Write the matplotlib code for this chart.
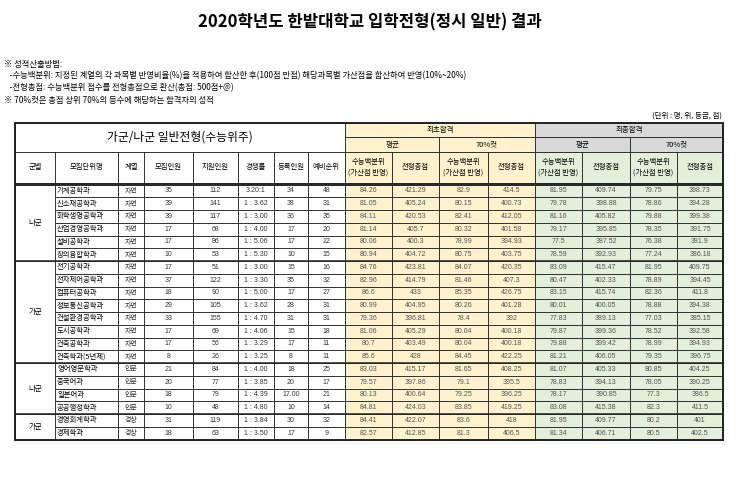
import matplotlib.pyplot as plt
from matplotlib import font_manager
from matplotlib.patches import Rectangle

names = {f.name for f in font_manager.fontManager.ttflist}
KR = [n for n in ["Noto Sans CJK KR", "Noto Sans CJK JP", "Noto Sans CJK SC", "Noto Sans CJK TC"] if n in names] or ["DejaVu Sans"]
KR = KR[0]
NUM = "Liberation Sans"

groups = [("나군", 0, 6), ("가군", 6, 14), ("나군", 14, 18), ("가군", 18, 20)]
depts = ["기계공학과", "신소재공학과", "화학생명공학과", "산업경영공학과", "설비공학과", "창의융합학과",
         "전기공학과", "전자제어공학과", "컴퓨터공학과", "정보통신공학과", "건설환경공학과", "도시공학과",
         "건축공학과", "건축학과(5년제)", "영어영문학과", "중국어과", "일본어과", "공공행정학과",
         "경영회계학과", "경제학과"]
fields = ["자연"] * 14 + ["인문"] * 4 + ["경상"] * 2
quota = [35, 39, 39, 17, 17, 10, 17, 37, 18, 29, 33, 17, 17, 8, 21, 20, 18, 10, 31, 18]
applicants = [112, 141, 117, 68, 86, 53, 51, 122, 90, 105, 155, 69, 56, 26, 84, 77, 79, 48, 119, 63]
ratio = ["3.20:1", "1 : 3.62", "1 : 3.00", "1 : 4.00", "1 : 5.06", "1 : 5.30", "1 : 3.00", "1 : 3.30",
         "1 : 5.00", "1 : 3.62", "1 : 4.70", "1 : 4.06", "1 : 3.29", "1 : 3.25", "1 : 4.00", "1 : 3.85",
         "1 : 4.39", "1 : 4.80", "1 : 3.84", "1 : 3.50"]
enrolled = ["34", "38", "36", "17", "17", "10", "15", "35", "17", "28", "31", "15", "17", "8", "18", "20",
            "17.00", "10", "30", "17"]
waitlist = [48, 31, 35, 20, 22, 15, 16, 32, 27, 31, 31, 18, 11, 11, 25, 17, 21, 14, 32, 9]
first_avg_pct = ["84.26", "81.05", "84.11", "81.14", "80.06", "80.94", "84.76", "82.96", "86.6", "80.99",
                 "79.36", "81.06", "80.7", "85.6", "83.03", "79.57", "80.13", "84.81", "84.41", "82.57"]
first_avg_tot = ["421.29", "405.24", "420.53", "405.7", "400.3", "404.72", "423.81", "414.79", "433",
                 "404.95", "396.81", "405.29", "403.49", "428", "415.17", "397.86", "400.64", "424.03",
                 "422.07", "412.85"]
first_70_pct = ["82.9", "80.15", "82.41", "80.32", "78.99", "80.75", "84.07", "81.46", "85.35", "80.26",
                "78.4", "80.04", "80.04", "84.45", "81.65", "79.1", "79.25", "83.85", "83.6", "81.3"]
first_70_tot = ["414.5", "400.73", "412.05", "401.58", "394.93", "403.75", "420.35", "407.3", "426.75",
                "401.28", "392", "400.18", "400.18", "422.25", "408.25", "395.5", "396.25", "419.25",
                "418", "406.5"]
final_avg_pct = ["81.95", "79.78", "81.16", "79.17", "77.5", "78.59", "83.09", "80.47", "83.15", "80.01",
                 "77.83", "79.87", "79.88", "81.21", "81.07", "78.83", "78.17", "83.08", "81.95", "81.34"]
final_avg_tot = ["409.74", "398.88", "405.82", "395.85", "387.52", "392.93", "415.47", "402.33", "415.74",
                 "400.05", "389.13", "399.36", "399.42", "406.05", "405.33", "394.13", "390.85", "415.38",
                 "409.77", "406.71"]
final_70_pct = ["79.75", "78.86", "79.88", "78.35", "76.38", "77.24", "81.95", "78.89", "82.36", "78.88",
                "77.03", "78.52", "78.99", "79.35", "80.85", "78.05", "77.3", "82.3", "80.2", "80.5"]
final_70_tot = ["398.73", "394.28", "399.38", "391.75", "381.9", "386.18", "409.75", "394.45", "411.8",
                "394.38", "385.15", "392.58", "394.93", "396.75", "404.25", "390.25", "386.5", "411.5",
                "401", "402.5"]

col_heads = ["군별", "모집단위명", "계열", "모집인원", "지원인원", "경쟁률", "등록인원", "예비순위",
             "수능백분위\n(가산점 반영)", "전형총점", "수능백분위\n(가산점 반영)", "전형총점",
             "수능백분위\n(가산점 반영)", "전형총점", "수능백분위\n(가산점 반영)", "전형총점"]

X = [15, 55, 118, 144, 193, 238, 274, 308, 345, 392, 439, 488, 535, 582, 630, 677, 723]
Y_TOP, Y1, Y2, Y_HEAD = 123, 137, 152, 183
ROW_H = 12.75

YEL = "#FFF2CC"
GRN = "#E2EFDA"
GRY = "#D9D9D9"
LINE = "#222222"

fig = plt.figure(figsize=(7.4, 4.99), dpi=100)
ax = fig.add_axes([0, 0, 1, 1])
ax.set_xlim(0, 740)
ax.set_ylim(499, 0)
ax.axis("off")


def cell(x0, x1, y0, y1, face="white", lw=0.6):
    ax.add_patch(Rectangle((x0, y0), x1 - x0, y1 - y0, facecolor=face, edgecolor=LINE, linewidth=lw))


def txt(x, y, s, fs=5.4, font=KR, **kw):
    ax.text(x, y, s, ha="center", va="center", fontsize=fs, fontfamily=font, **kw)


ax.text(370, 22, "2020학년도 한밭대학교 입학전형(정시 일반) 결과", ha="center", va="center",
        fontsize=12, fontweight="bold", fontfamily=KR)
notes = ["※ 성적산출방법:",
         "   -수능백분위: 지정된 계열의 각 과목별 반영비율(%)을 적용하여 합산한 후(100점 만점) 해당과목별 가산점을 합산하여 반영(10%~20%)",
         "   -전형총점: 수능백분위 점수를 전형총점으로 환산(총점: 500점+@)",
         "※ 70%컷은 총점 상위 70%의 등수에 해당하는 합격자의 성적"]
for i, n in enumerate(notes):
    ax.text(4, 64 + i * 12, n, ha="left", va="center", fontsize=6.0, fontfamily=KR)
ax.text(722, 116, "(단위 : 명, 위, 등급, 점)", ha="right", va="center", fontsize=5.4, fontfamily=KR)

# header
cell(X[0], X[8], Y_TOP, Y2)
txt((X[0] + X[8]) / 2, (Y_TOP + Y2) / 2, "가군/나군 일반전형(수능위주)", fs=8.5)
cell(X[8], X[12], Y_TOP, Y1, YEL)
txt((X[8] + X[12]) / 2, (Y_TOP + Y1) / 2, "최초합격")
cell(X[12], X[16], Y_TOP, Y1, GRY)
txt((X[12] + X[16]) / 2, (Y_TOP + Y1) / 2, "최종합격")
for k, (a, b) in enumerate([(8, 10), (10, 12), (12, 14), (14, 16)]):
    cell(X[a], X[b], Y1, Y2, YEL if k < 2 else GRY)
    txt((X[a] + X[b]) / 2, (Y1 + Y2) / 2, "평균" if k % 2 == 0 else "70%컷")
for c, h in enumerate(col_heads):
    face = YEL if 8 <= c < 12 else GRN if c >= 12 else "white"
    cell(X[c], X[c + 1], Y2, Y_HEAD, face)
    txt((X[c] + X[c + 1]) / 2, (Y2 + Y_HEAD) / 2, h, fs=5.3, linespacing=1.5)

# body
cols = [fields, quota, applicants, ratio, enrolled, waitlist,
        first_avg_pct, first_avg_tot, first_70_pct, first_70_tot,
        final_avg_pct, final_avg_tot, final_70_pct, final_70_tot]
y0 = Y_HEAD + 1.5
for r, name in enumerate(depts):
    ya, yb = y0 + r * ROW_H, y0 + (r + 1) * ROW_H
    ym = (ya + yb) / 2
    cell(X[1], X[2], ya, yb)
    ax.text(X[1] + 2, ym, name, ha="left", va="center", fontsize=5.3, fontfamily=KR)
    for c, vals in enumerate(cols, start=2):
        face = YEL if 8 <= c < 12 else GRN if c >= 12 else "white"
        cell(X[c], X[c + 1], ya, yb, face)
        font = KR if c == 2 else NUM
        color = "#333333" if c < 8 else "#555555"
        txt((X[c] + X[c + 1]) / 2, ym, str(vals[r]), fs=5.0, font=font, color=color)

for g, a, b in groups:
    ya, yb = y0 + a * ROW_H, y0 + b * ROW_H
    cell(X[0], X[1], ya, yb)
    txt((X[0] + X[1]) / 2, (ya + yb) / 2, g)
    ax.plot([X[0], X[16]], [ya, ya], color=LINE, lw=1.1)

y_end = y0 + len(depts) * ROW_H
ax.plot([X[0], X[16]], [Y_HEAD + 0.7, Y_HEAD + 0.7], color=LINE, lw=1.2)
ax.add_patch(Rectangle((X[0], Y_TOP), X[16] - X[0], y_end - Y_TOP, fill=False,
                       edgecolor=LINE, linewidth=1.4))

fig.savefig("out.png", dpi=100, facecolor="white")
